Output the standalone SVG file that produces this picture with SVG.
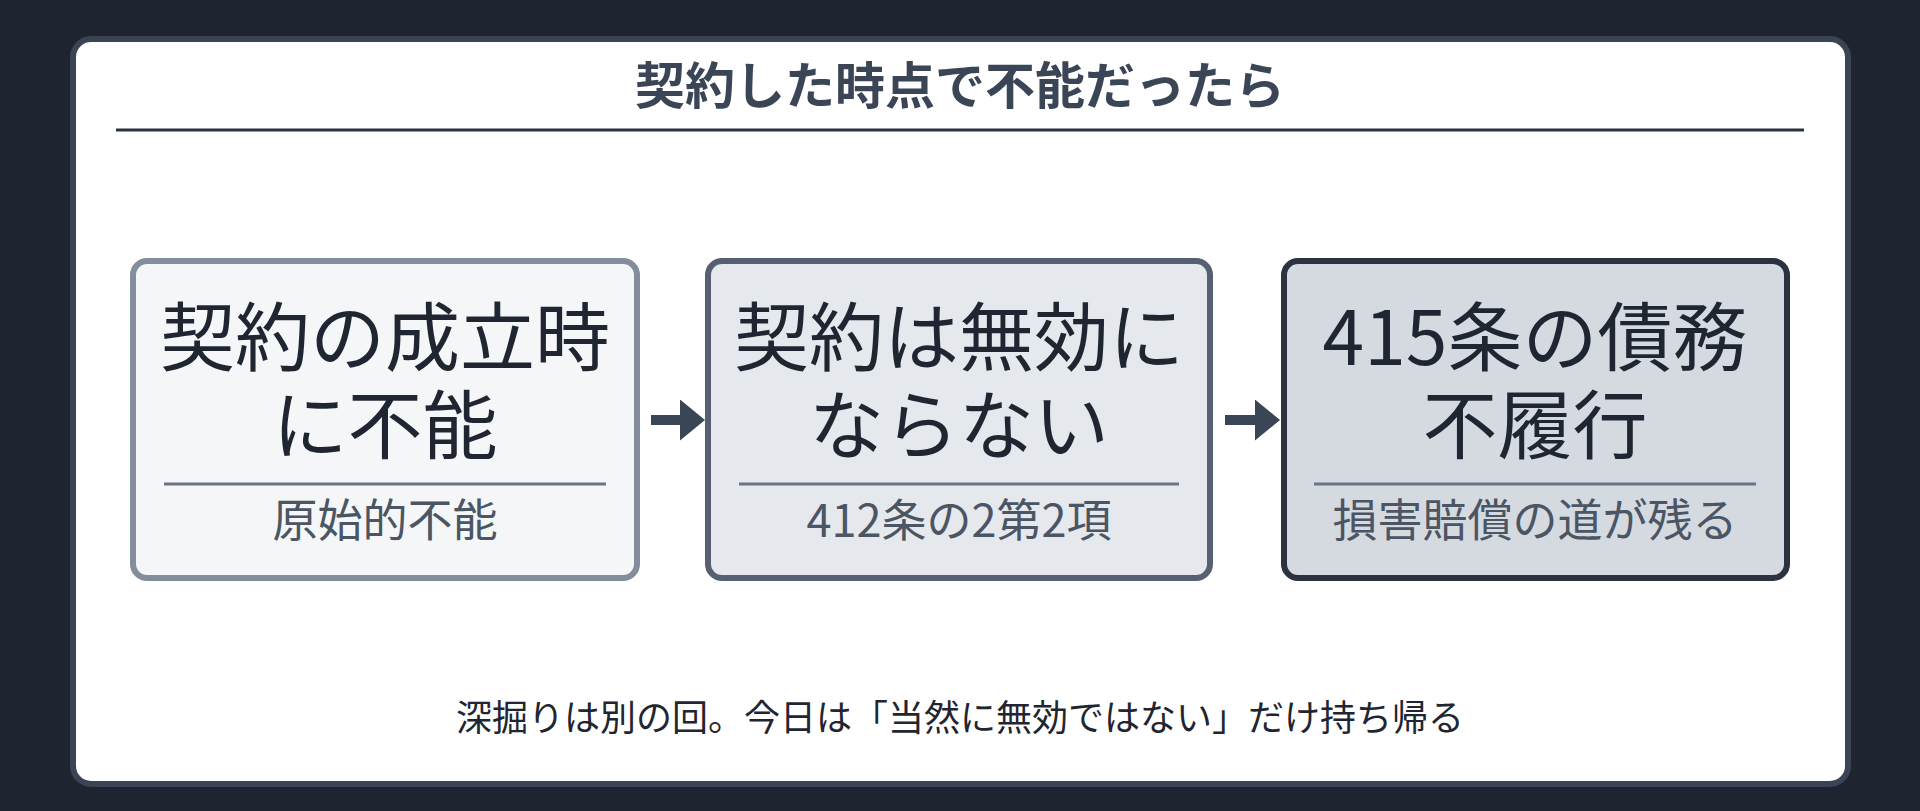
<svg xmlns="http://www.w3.org/2000/svg" width="1920" height="811" viewBox="0 0 1920 811">
  <defs>
    <style>
      .jp { font-family: "Noto Sans CJK JP", "Noto Sans", sans-serif; }
      .title { font-size: 50px; font-weight: 700; fill: #3a4556; text-anchor: middle; }
      .main { font-size: 75px; fill: #1f2631; text-anchor: middle; }
      .sub { font-size: 45px; fill: #4b5563; text-anchor: middle; }
      .foot { font-size: 36px; fill: #1f2631; text-anchor: middle; }
      .box { stroke-width: 6; }
      .div { stroke: #6b7484; stroke-width: 3; }
      .conn { stroke: #3a4556; stroke-width: 10; fill: none; }
    </style>
    <marker id="head" markerUnits="userSpaceOnUse" markerWidth="26" markerHeight="42" refX="1" refY="20.5" orient="auto">
      <path d="M0,0 L25,20.5 L0,41 Z" fill="#3a4556"/>
    </marker>
  </defs>

  <rect x="0" y="0" width="1920" height="811" fill="#1e2530"/>

  <g id="card">
    <rect x="73" y="39" width="1775" height="745" rx="18" fill="#ffffff" stroke="#3a4454" stroke-width="6"/>
    <text class="jp title" x="960" y="104">契約した時点で不能だったら</text>
    <line x1="116" y1="130" x2="1804" y2="130" stroke="#2b3340" stroke-width="3"/>
  </g>

  <g id="node-1">
    <rect class="box" x="133" y="261" width="504" height="317" rx="14" fill="#f4f6f8" stroke="#848d9a"/>
    <text class="jp main"><tspan x="385" y="365">契約の成立時</tspan><tspan x="385" y="453">に不能</tspan></text>
    <line class="div" x1="164" y1="484" x2="606" y2="484"/>
    <text class="jp sub" x="385" y="537">原始的不能</text>
  </g>

  <g id="node-2">
    <rect class="box" x="708" y="261" width="502" height="317" rx="14" fill="#e5e8ed" stroke="#566070"/>
    <text class="jp main"><tspan x="959" y="365">契約は無効に</tspan><tspan x="959" y="453">ならない</tspan></text>
    <line class="div" x1="739" y1="484" x2="1179" y2="484"/>
    <text class="jp sub" x="959" y="537">412条の2第2項</text>
  </g>

  <g id="node-3">
    <rect class="box" x="1284" y="261" width="503" height="317" rx="14" fill="#d5dae1" stroke="#2b3340"/>
    <text class="jp main"><tspan x="1535" y="365">415条の債務</tspan><tspan x="1535" y="453">不履行</tspan></text>
    <line class="div" x1="1314" y1="484" x2="1756" y2="484"/>
    <text class="jp sub" x="1535" y="537">損害賠償の道が残る</text>
  </g>

  <g id="connectors">
    <line class="conn" x1="651" y1="420" x2="681" y2="420" marker-end="url(#head)"/>
    <line class="conn" x1="1225" y1="420" x2="1256" y2="420" marker-end="url(#head)"/>
  </g>

  <g id="footer">
    <text class="jp foot" x="960" y="731">深掘りは別の回。今日は「当然に無効ではない」だけ持ち帰る</text>
  </g>
</svg>
